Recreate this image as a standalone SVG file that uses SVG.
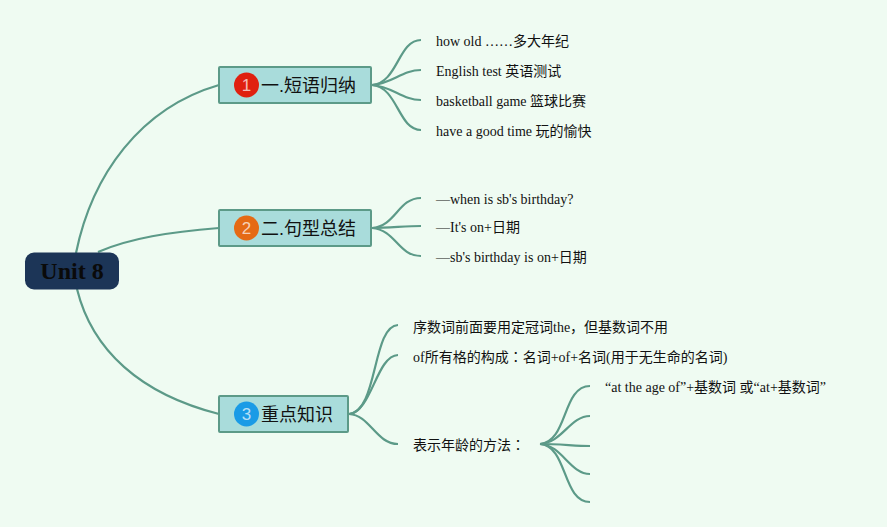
<svg xmlns="http://www.w3.org/2000/svg" width="887" height="527" viewBox="0 0 887 527">
<style>
.bg{fill:#effbf2}
.c path{fill:none;stroke:#5c9a88;stroke-width:2.200;stroke-linecap:butt}
.box{fill:#a9dcdb;stroke:#5c9a88;stroke-width:2}
.root{fill:#1c3557}
.h{font-family:"Liberation Sans","Noto Sans CJK SC",sans-serif;font-size:18px;fill:#111}
.t{font-family:"Liberation Serif","Noto Sans CJK SC",serif;font-size:14px;fill:#111}
.tc{font-family:"Noto Sans CJK TC",sans-serif}
.rt{font-family:"Liberation Serif","Noto Sans CJK SC",serif;font-size:24px;font-weight:bold;fill:#0a0a0a}
.n{font-family:"Liberation Sans",sans-serif;font-size:17px;fill:#fff;fill-opacity:.7;text-anchor:middle}
</style>
<rect class="bg" width="887" height="527"/>
<g class="c" id="connectors">
<path d="M76 253C92 175 140 108 219 85"/>
<path d="M98 252C130 238 170 232 219 228"/>
<path d="M77 289C92 350 140 394 219 414"/>
<path d="M372 85C398 83 398 40 421 40"/>
<path d="M372 85C392 84 402 70 421 70"/>
<path d="M372 85C392 86 402 100 421 100"/>
<path d="M372 85C398 87 398 130 421 130"/>
<path d="M372 228C396 226 398 198 421 198"/>
<path d="M372 228C390 228 405 226 421 226"/>
<path d="M372 228C396 230 398 256 421 256"/>
<path d="M349 414C378 412 372 326 398 325"/>
<path d="M349 414C372 412 376 356 398 355"/>
<path d="M349 414C370 415 376 444 398 444"/>
<path d="M540 444C568 442 562 386 590 386"/>
<path d="M540 444C562 443 570 416 590 416"/>
<path d="M540 444C560 444 575 446 590 446"/>
<path d="M540 444C562 445 570 474 590 474"/>
<path d="M540 444C568 446 562 502 590 502"/>
</g>
<g id="root"><rect class="root" x="25" y="252.500" width="94" height="37" rx="9"/><text class="rt" x="72" y="279" text-anchor="middle">Unit 8</text></g>
<g id="n1"><rect class="box" x="219" y="67" width="152" height="36" rx="1"/><circle cx="246.500" cy="85" r="12.500" fill="#e0200f"/><text class="n" x="246.500" y="91">1</text><text class="h" x="261" y="92">一.短语归纳</text></g>
<g id="n2"><rect class="box" x="219" y="210" width="152" height="36" rx="1"/><circle cx="246.500" cy="228" r="12.500" fill="#e56a14"/><text class="n" x="246.500" y="234">2</text><text class="h" x="261" y="235">二.句型总结</text></g>
<g id="n3"><rect class="box" x="219" y="396" width="129" height="36" rx="1"/><circle cx="246.500" cy="414" r="12.500" fill="#1a9be6"/><text class="n" x="246.500" y="420">3</text><text class="h" x="261" y="421">重点知识</text></g>
<g id="l1"><text class="t" x="436" y="46">how old ……多大年纪</text></g>
<g id="l2"><text class="t" x="436" y="76">English test 英语测试</text></g>
<g id="l3"><text class="t" x="436" y="106">basketball game 篮球比赛</text></g>
<g id="l4"><text class="t" x="436" y="136">have a good time 玩的愉快</text></g>
<g id="l5"><text class="t" x="436" y="204">—when is sb's birthday?</text></g>
<g id="l6"><text class="t" x="436" y="232">—It's on+日期</text></g>
<g id="l7"><text class="t" x="436" y="262">—sb's birthday is on+日期</text></g>
<g id="l8"><text class="t" x="413" y="332">序数词前面要用定冠词the，但基数词不用</text></g>
<g id="l9"><text class="t" x="413" y="362">of所有格的构成<tspan class="tc">：</tspan>名词+of+名词(用于无生命的名词)</text></g>
<g id="l10"><text class="t" x="413" y="450">表示年龄的方法<tspan class="tc">：</tspan></text></g>
<g id="l11"><text class="t" x="605" y="392">“at the age of”+基数词 或“at+基数词”</text></g>
</svg>
